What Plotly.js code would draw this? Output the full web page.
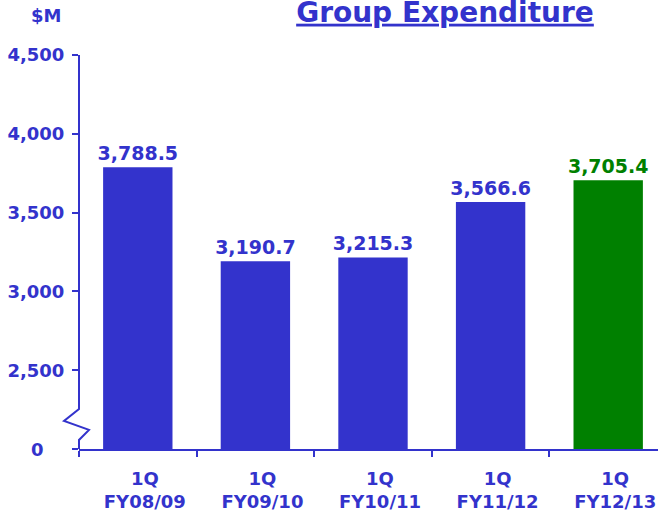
<!DOCTYPE html>
<html>
<head>
<meta charset="utf-8">
<script src="https://cdn.plot.ly/plotly-3.0.1.min.js"></script>
<style>
html,body{margin:0;padding:0;overflow:hidden;background:#fff;}
#chart{width:670px;height:519px;}
</style>
</head>
<body>
<div id="chart"></div>
<script>
// Data
const quarterLabels = ['1Q', '1Q', '1Q', '1Q', '1Q'];
const fiscalYears = ['FY08/09', 'FY09/10', 'FY10/11', 'FY11/12', 'FY12/13'];
const expenditure = [3788.5, 3190.7, 3215.3, 3566.6, 3705.4];
const barColors = ['#3333CC', '#3333CC', '#3333CC', '#3333CC', '#008000'];
const yTickVals = [2000, 2500, 3000, 3500, 4000, 4500];
const yTickText = ['', '2,500', '3,000', '3,500', '4,000', '4,500'];

const BLUE = '#3333CC';
const FONT = 'DejaVu Sans, sans-serif';

const categories = fiscalYears.map((fy, i) => quarterLabels[i] + ' ' + fy);
const catText = fiscalYears.map((fy, i) => '<b>' + quarterLabels[i] + '</b><br><b>' + fy + '</b>');

const trace = {
  type: 'bar',
  x: categories,
  y: expenditure,
  marker: {color: barColors},
  texttemplate: '<b>%{y:,.1f}</b>',
  textposition: 'outside',
  constraintext: 'none',
  textfont: {family: FONT, size: 19, color: barColors},
  cliponaxis: false,
  hoverinfo: 'none'
};

const layout = {
  width: 670,
  height: 519,
  margin: {l: 79, r: 3, t: 55, b: 70},
  paper_bgcolor: '#fff',
  plot_bgcolor: '#fff',
  showlegend: false,
  bargap: 0.41,
  font: {family: FONT, color: BLUE},
  title: {
    text: '<b><span style="text-decoration:underline">Group Expenditure</span></b>',
    font: {family: FONT, size: 28, color: BLUE},
    xref: 'container', x: 445 / 670, xanchor: 'center',
    yref: 'container', y: 0.996, yanchor: 'top',
    pad: {t: 0}
  },
  xaxis: {
    type: 'category',
    tickvals: categories,
    ticktext: catText,
    showline: true, linecolor: BLUE, linewidth: 2,
    ticks: 'outside', tickson: 'boundaries', ticklen: 6, tickwidth: 2, tickcolor: BLUE,
    tickfont: {family: FONT, size: 18, color: BLUE},
    ticklabelshift: 7,
    ticklabelstandoff: 12,
    showgrid: false, zeroline: false,
    fixedrange: true
  },
  yaxis: {
    range: [2000, 4500],
    tickvals: yTickVals,
    ticktext: yTickText.map(t => t ? '<b>' + t + '</b>' : ''),
    showline: false,
    ticks: 'outside', ticklen: 6, tickwidth: 2, tickcolor: BLUE,
    tickfont: {family: FONT, size: 18, color: BLUE},
    ticklabelstandoff: 4,
    showgrid: false, zeroline: false,
    fixedrange: true
  },
  shapes: [{
    type: 'path',
    xref: 'paper', yref: 'y',
    path: 'M 0,4500 L 0,2254 L -0.0255,2178 L 0.017,2121 L 0,2057 L 0,2000',
    line: {color: BLUE, width: 2}
  }],
  annotations: [
    {text: '<b>$M</b>', xref: 'paper', yref: 'paper', x: -0.056, y: 1.1, xanchor: 'center', yanchor: 'middle',
     showarrow: false, font: {family: FONT, size: 18, color: BLUE}},
    {text: '<b>0</b>', xref: 'paper', yref: 'y', x: -0.056, y: 2000, xanchor: 'right', yanchor: 'middle',
     showarrow: false, font: {family: FONT, size: 18, color: BLUE}}
  ]
};

Plotly.newPlot('chart', [trace], layout, {displayModeBar: false, staticPlot: true});
</script>
</body>
</html>
